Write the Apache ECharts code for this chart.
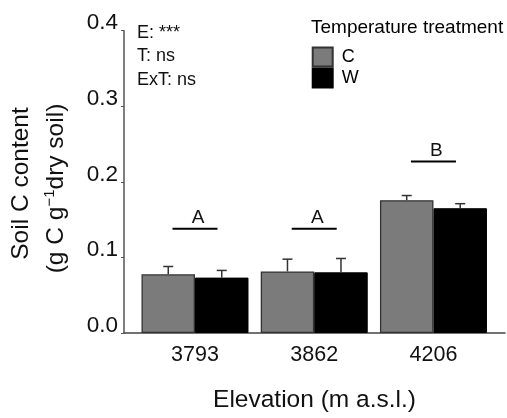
<!DOCTYPE html>
<html>
<head>
<meta charset="utf-8">
<script src="https://cdn.jsdelivr.net/npm/echarts@6/dist/echarts.min.js"></script>
<style>
html,body{margin:0;padding:0;background:#fff;}
#chart{width:507px;height:418px;}
</style>
</head>
<body>
<div id="chart"></div>
<script>
// ---- data ----
const categories = ['3793', '3862', '4206'];
const seriesNames = ['C', 'W'];
const valuesC = [0.0777, 0.0815, 0.1758];
const valuesW = [0.0733, 0.0803, 0.1651];
const errC = [0.0103, 0.0162, 0.0061];
const errW = [0.0095, 0.0183, 0.0060];
const sigLetters = ['A', 'A', 'B'];
const sigLevels = [0.138, 0.138, 0.227];
const statsLines = ['E: ***', 'T: ns', 'ExT: ns'];
const legendTitle = 'Temperature treatment';
const xTitle = 'Elevation (m a.s.l.)';
const yTitle1 = 'Soil C content';
const yTitle2 = ['(g C g', '\u22121', 'dry soil)'];

// ---- chart ----
const FONT = '"Liberation Sans", Arial, Helvetica, sans-serif';
const BAR_W = 53.5;
const pos = categories.map((c, i) => i + 1);

function barData(vals) { return vals.map((v, i) => [pos[i], v]); }
function errData(vals, errs) { return vals.map((v, i) => [pos[i], v, errs[i]]); }

function errRender(offset) {
  return function (params, api) {
    const x = api.value(0), v = api.value(1), e = api.value(2);
    const p0 = api.coord([x, v]);
    const p1 = api.coord([x, v + e]);
    const cx = p0[0] + offset;
    const st = { stroke: '#333', lineWidth: 1.5 };
    return {
      type: 'group',
      children: [
        { type: 'line', shape: { x1: cx, y1: p0[1], x2: cx, y2: p1[1] }, style: st },
        { type: 'line', shape: { x1: cx - 5, y1: p1[1], x2: cx + 5, y2: p1[1] }, style: st }
      ]
    };
  };
}

const chart = echarts.init(document.getElementById('chart'), null, { renderer: 'canvas' });
chart.setOption({
  animation: false,
  backgroundColor: '#fff',
  grid: { left: 124, right: 2, top: 30.7, bottom: 76.3, containLabel: false },
  title: {
    text: legendTitle, left: 311, top: 18, padding: 0,
    textStyle: { fontFamily: FONT, fontSize: 19, fontWeight: 'normal', color: '#000' }
  },
  legend: {
    data: seriesNames, orient: 'vertical', left: 311.7, top: 46.5, padding: 0,
    itemWidth: 20, itemHeight: 19, itemGap: 0, icon: 'rect',
    textStyle: { fontFamily: FONT, fontSize: 18, color: '#000', padding: [0, 0, 0, 4] }
  },
  xAxis: {
    type: 'value', min: 0.4046, max: 3.60,
    splitLine: { show: false },
    axisTick: { show: false },
    axisLine: { show: true, onZero: false, lineStyle: { color: '#444', width: 1.5 } },
    axisLabel: {
      customValues: pos,
      formatter: v => categories[Math.round(v) - 1] || '',
      fontFamily: FONT, fontSize: 21.5, color: '#111', margin: 11
    },
    name: xTitle, nameLocation: 'middle', nameGap: 55,
    nameTextStyle: { fontFamily: FONT, fontSize: 24.5, color: '#111' }
  },
  yAxis: {
    type: 'value', min: 0, max: 0.4, interval: 0.1,
    splitLine: { show: false },
    axisLine: { show: true, lineStyle: { color: '#555', width: 1.5 } },
    axisTick: { show: true, length: 3, lineStyle: { color: '#555', width: 1 } },
    axisLabel: {
      formatter: v => v.toFixed(1),
      fontFamily: FONT, fontSize: 22.5, color: '#111', margin: 6,
      verticalAlign: 'bottom', lineHeight: 15
    }
  },
  graphic: [
    ...statsLines.map((t, i) => ({
      type: 'text', left: 137, top: 24 + i * 23.3,
      style: { text: t, font: '18px ' + FONT, fill: '#111' }
    })),
    {
      type: 'text', x: 21.7, y: 183.5, rotation: Math.PI / 2,
      style: { text: yTitle1, x: 0, y: 0, align: 'center', verticalAlign: 'middle', font: '24.5px ' + FONT, fill: '#111' }
    },
    {
      type: 'text', x: 56.7, y: 188.5, rotation: Math.PI / 2,
      style: {
        text: '{a|' + yTitle2[0] + '}{s|' + yTitle2[1] + '}{a|' + yTitle2[2] + '}',
        x: 0, y: 0, align: 'center', verticalAlign: 'middle',
        rich: {
          a: { fontFamily: FONT, fontSize: 24.5, fill: '#111', color: '#111', lineHeight: 28 },
          s: { fontFamily: FONT, fontSize: 15, fill: '#111', color: '#111', verticalAlign: 'top', lineHeight: 28, padding: [0, 0, 10, 0] }
        }
      }
    }
  ],
  series: [
    {
      name: seriesNames[0], type: 'bar', data: barData(valuesC),
      barWidth: BAR_W, barGap: '0%',
      itemStyle: { color: '#7b7b7b', borderColor: '#333', borderWidth: 1.3 }
    },
    {
      name: seriesNames[1], type: 'bar', data: barData(valuesW),
      barWidth: BAR_W, barGap: '0%',
      itemStyle: { color: '#000', borderColor: '#000', borderWidth: 1 }
    },
    {
      type: 'custom', name: 'errC', data: errData(valuesC, errC), z: 3,
      encode: { x: 0, y: 1 }, renderItem: errRender(-BAR_W / 2)
    },
    {
      type: 'custom', name: 'errW', data: errData(valuesW, errW), z: 3,
      encode: { x: 0, y: 1 }, renderItem: errRender(BAR_W / 2)
    },
    {
      type: 'custom', name: 'sig', z: 4,
      data: sigLevels.map((l, i) => [pos[i], l]),
      encode: { x: 0, y: 1 },
      renderItem: function (params, api) {
        const p = api.coord([api.value(0), api.value(1)]);
        return {
          type: 'group',
          children: [
            { type: 'line', shape: { x1: p[0] - 22.5, y1: p[1], x2: p[0] + 22.5, y2: p[1] }, style: { stroke: '#000', lineWidth: 2 } },
            { type: 'text', x: p[0] + 3, y: p[1] - 1, style: { text: sigLetters[params.dataIndex], align: 'center', verticalAlign: 'bottom', font: '19px ' + FONT, fill: '#111' } }
          ]
        };
      }
    }
  ]
});
</script>
</body>
</html>
